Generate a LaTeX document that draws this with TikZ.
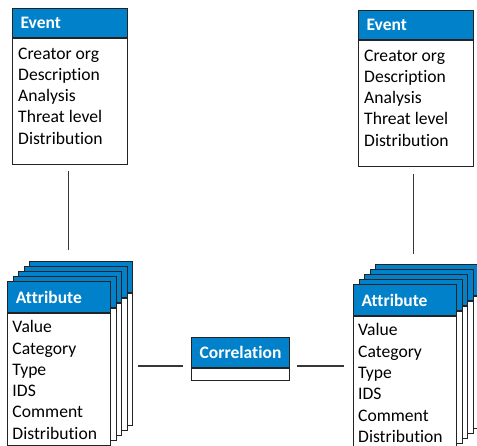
\documentclass[tikz,border=0pt]{standalone}
\usepackage{fontspec}
\setmainfont{Carlito}[RawFeature={-liga}]
\usetikzlibrary{calc}

\definecolor{hdblue}{RGB}{0,129,201}
\definecolor{boxline}{RGB}{35,35,35}
\definecolor{linkgray}{RGB}{55,55,55}

\tikzset{
  card/.style={draw=boxline, line width=1.1pt, anchor=north west, inner ysep=0pt},
  evhead/.style={card, fill=hdblue, text=white, inner xsep=8pt, align=left,
    text width=99pt, minimum height=29pt, font=\fontsize{17.5}{21}\selectfont\bfseries},
  evbody/.style={card, fill=white, minimum width=115pt, minimum height=126pt},
  athead/.style={card, fill=hdblue, text=white, inner xsep=8pt, align=left,
    text width=87pt, minimum height=31pt, font=\fontsize{17.5}{21}\selectfont\bfseries},
  atbody/.style={card, fill=white, minimum width=103pt, minimum height=132pt},
  cohead/.style={card, fill=hdblue, text=white, inner xsep=0pt, align=center,
    text width=98pt, minimum height=30pt, font=\fontsize{17.5}{21}\selectfont\bfseries},
  cobody/.style={card, fill=white, minimum width=98pt, minimum height=12pt},
  fields/.style={anchor=base west, inner sep=0pt, align=left,
    font=\fontsize{17.6}{21.3}\selectfont},
  link/.style={draw=linkgray, line width=1.2pt}
}

\begin{document}
\begin{tikzpicture}[x=1pt,y=-1pt]
\useasboundingbox (0,0) rectangle (477,446);
\clip (0,0) rectangle (477,446);

% events (fields sit on the baseline of their last line)
\node[evhead] (evLh) at (12,8) {Event};
\node[evbody] (evLb) at (evLh.south west) {};
\node[fields] (evLf) at ($(evLb.north west)+(6,106.2)$)
  {Creator org\\Description\\Analysis\\Threat level\\Distribution};

\node[evhead] (evRh) at (358,10) {Event};
\node[evbody] (evRb) at (evRh.south west) {};
\node[fields] (evRf) at ($(evRb.north west)+(6,106.2)$)
  {Creator org\\Description\\Analysis\\Threat level\\Distribution};

% attribute stacks
\foreach \k in {4,3,2,1}{
  \node[athead] (atL\k h) at (7.3+5.4*\k, 281-5*\k) {};
  \node[atbody] (atL\k b) at (atL\k h.south west) {};
  \node[athead] (atR\k h) at (353+5.5*\k, 284-5*\k) {};
  \node[atbody] (atR\k b) at (atR\k h.south west) {};
}
\node[athead] (atLh) at (7.3,281) {Attribute};
\node[atbody] (atLb) at (atLh.south west) {};
\node[fields] (atLf) at ($(atLb.north west)+(5,126.2)$)
  {Value\\Category\\Type\\IDS\\Comment\\Distribution};

\node[athead] (atRh) at (353,284) {Attribute};
\node[atbody] (atRb) at (atRh.south west) {};
\node[fields] (atRf) at ($(atRb.north west)+(5,126.2)$)
  {Value\\Category\\Type\\IDS\\Comment\\Distribution};

% correlation
\node[cohead] (coh) at (191,337) {Correlation};
\node[cobody] (cob) at (coh.south west) {};

% links
\draw[link, shorten <=6pt, shorten >=11pt] ([xshift=-1.8pt]evLb.south) -- ([xshift=-1.8pt]evLb.south |- atL4h.north);
\draw[link, shorten <=7pt, shorten >=10pt] ([xshift=-2.2pt]evRb.south) -- ([xshift=-2.2pt]evRb.south |- atR4h.north);
\draw[link, shorten <=5pt, shorten >=8pt] ([yshift=2pt]atL4b.east |- cob.north west) -- ([yshift=2pt]cob.north west);
\draw[link, shorten <=7pt, shorten >=9pt] ([yshift=2pt]cob.north east) -- ([yshift=2pt]atRb.west |- cob.north east);
\end{tikzpicture}
\end{document}
